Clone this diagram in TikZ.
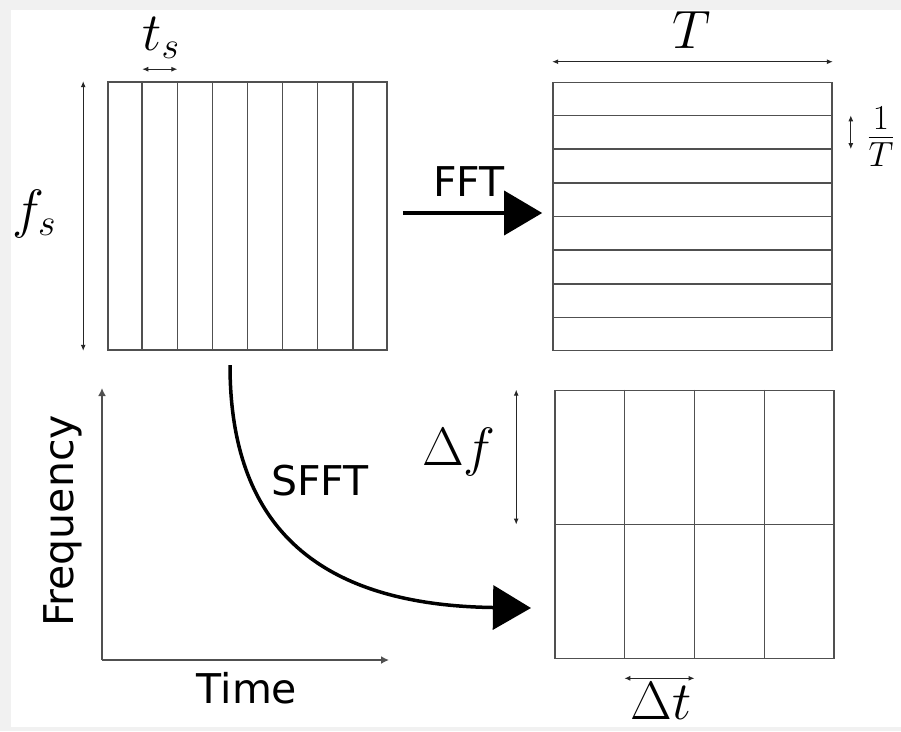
\RequirePackage{fix-cm}
\documentclass[tikz,border=0pt]{standalone}
\usepackage{fontspec}
\newfontfamily\sansf{DejaVu Sans}
\usetikzlibrary{arrows.meta,calc}
\definecolor{gridc}{HTML}{505050}
\definecolor{bgc}{HTML}{F1F1F1}
\tikzset{
  box/.style={draw=gridc, line width=1.6pt, inner sep=0pt, minimum width=279pt, minimum height=268pt},
  gridline/.style={draw=gridc, line width=1.6pt},
  dim/.style={draw=black!85, line width=1pt, {Latex[length=6pt,width=5pt]}-{Latex[length=6pt,width=5pt]}},
  axis/.style={draw=gridc, line width=1.6pt, -{Latex[length=8pt,width=8pt]}},
  bigarrow/.style={draw=black, line width=3.5pt, -{Triangle[length=38pt,width=44pt]}},
  mathlbl/.style={inner sep=0pt, font=\fontsize{54}{60}\selectfont},
  sanslbl/.style={inner sep=0pt, font=\sansf\fontsize{41}{48}\selectfont}
}
\begin{document}
\begin{tikzpicture}[x=1pt,y=-1pt]
\useasboundingbox (0,0) rectangle (901,731);
\fill[bgc] (0,0) rectangle (901,731);
\fill[white] (11,10) rectangle (901,727);

% boxes
\node[box] (tl) at (247.5,216) {};
\node[box] (tr) at (692.5,216.5) {};
\node[box] (br) at (694.5,524.5) {};

% top-left vertical lines
\foreach \i in {1,...,7}{
  \draw[gridline] ($(tl.north west)!\i/8!(tl.north east)$) -- ($(tl.south west)!\i/8!(tl.south east)$);
}
% top-right horizontal lines
\foreach \i in {1,...,7}{
  \draw[gridline] ($(tr.north west)!\i/8!(tr.south west)$) -- ($(tr.north east)!\i/8!(tr.south east)$);
}
% bottom-right grid
\foreach \i in {1,2,3}{
  \draw[gridline] ($(br.north west)!\i/4!(br.north east)$) -- ($(br.south west)!\i/4!(br.south east)$);
}
\draw[gridline] (br.west) -- (br.east);

% dimension arrows
\coordinate (ts1) at ($(tl.north west)!1/8!(tl.north east)+(0,-12)$);
\coordinate (ts2) at ($(tl.north west)!2/8!(tl.north east)+(0,-12)$);
\draw[dim] (ts1) -- (ts2);
\node[mathlbl] (tslbl) at (161,38) {$t_s$};

\coordinate (fs1) at ($(tl.north west)+(-24,0)$);
\coordinate (fs2) at ($(tl.south west)+(-24,0)$);
\draw[dim] (fs1) -- (fs2);
\node[mathlbl] (fslbl) at (34,214) {$f_s$};

\coordinate (T1) at ($(tr.north west)+(0,-20)$);
\coordinate (T2) at ($(tr.north east)+(0,-20)$);
\draw[dim] (T1) -- (T2);
\node[mathlbl] (Tlbl) at (692,30) {$T$};

\coordinate (iT1) at ($(tr.north east)!1/8!(tr.south east)+(18,0)$);
\coordinate (iT2) at ($(tr.north east)!2/8!(tr.south east)+(18,0)$);
\draw[dim] (iT1) -- (iT2);
\node[inner sep=0pt, font=\fontsize{50}{56}\selectfont] (iTlbl) at (881,137) {$\frac{1}{T}$};

\coordinate (df1) at ($(br.north west)+(-38,0)$);
\coordinate (df2) at ($(br.west)+(-38,0)$);
\draw[dim] (df1) -- (df2);
\node[mathlbl] (dflbl) at (459,452) {$\Delta f$};

\coordinate (dt1) at ($(br.south west)!1/4!(br.south east)+(0,19)$);
\coordinate (dt2) at ($(br.south west)!2/4!(br.south east)+(0,19)$);
\draw[dim] (dt1) -- (dt2);
\node[mathlbl] (dtlbl) at (661,701) {$\Delta t$};

% FFT arrow
\draw[bigarrow, shorten <=15pt, shorten >=10pt] ($(tl.east)+(0,-3)$) -- ($(tr.west)+(0,-3.5)$);
\node[sanslbl] (fft) at (469,182) {FFT};

% SFFT arrow
\coordinate (s0) at (230,365);
\coordinate (s1) at (531,608);
\draw[bigarrow] (s0) .. controls (230,510) and (300,605) .. (s1);
\node[sanslbl] (sfft) at (320,481) {SFFT};

% axes
\coordinate (o) at (102,660);
\coordinate (ay) at (102,388);
\coordinate (ax) at (389,660);
\draw[axis] (o) -- (ay);
\draw[axis] (o) -- (ax);
\node[sanslbl, rotate=90] (freq) at (63,521) {Frequency};
\node[sanslbl] (time) at (247,688) {Time};
\end{tikzpicture}
\end{document}
